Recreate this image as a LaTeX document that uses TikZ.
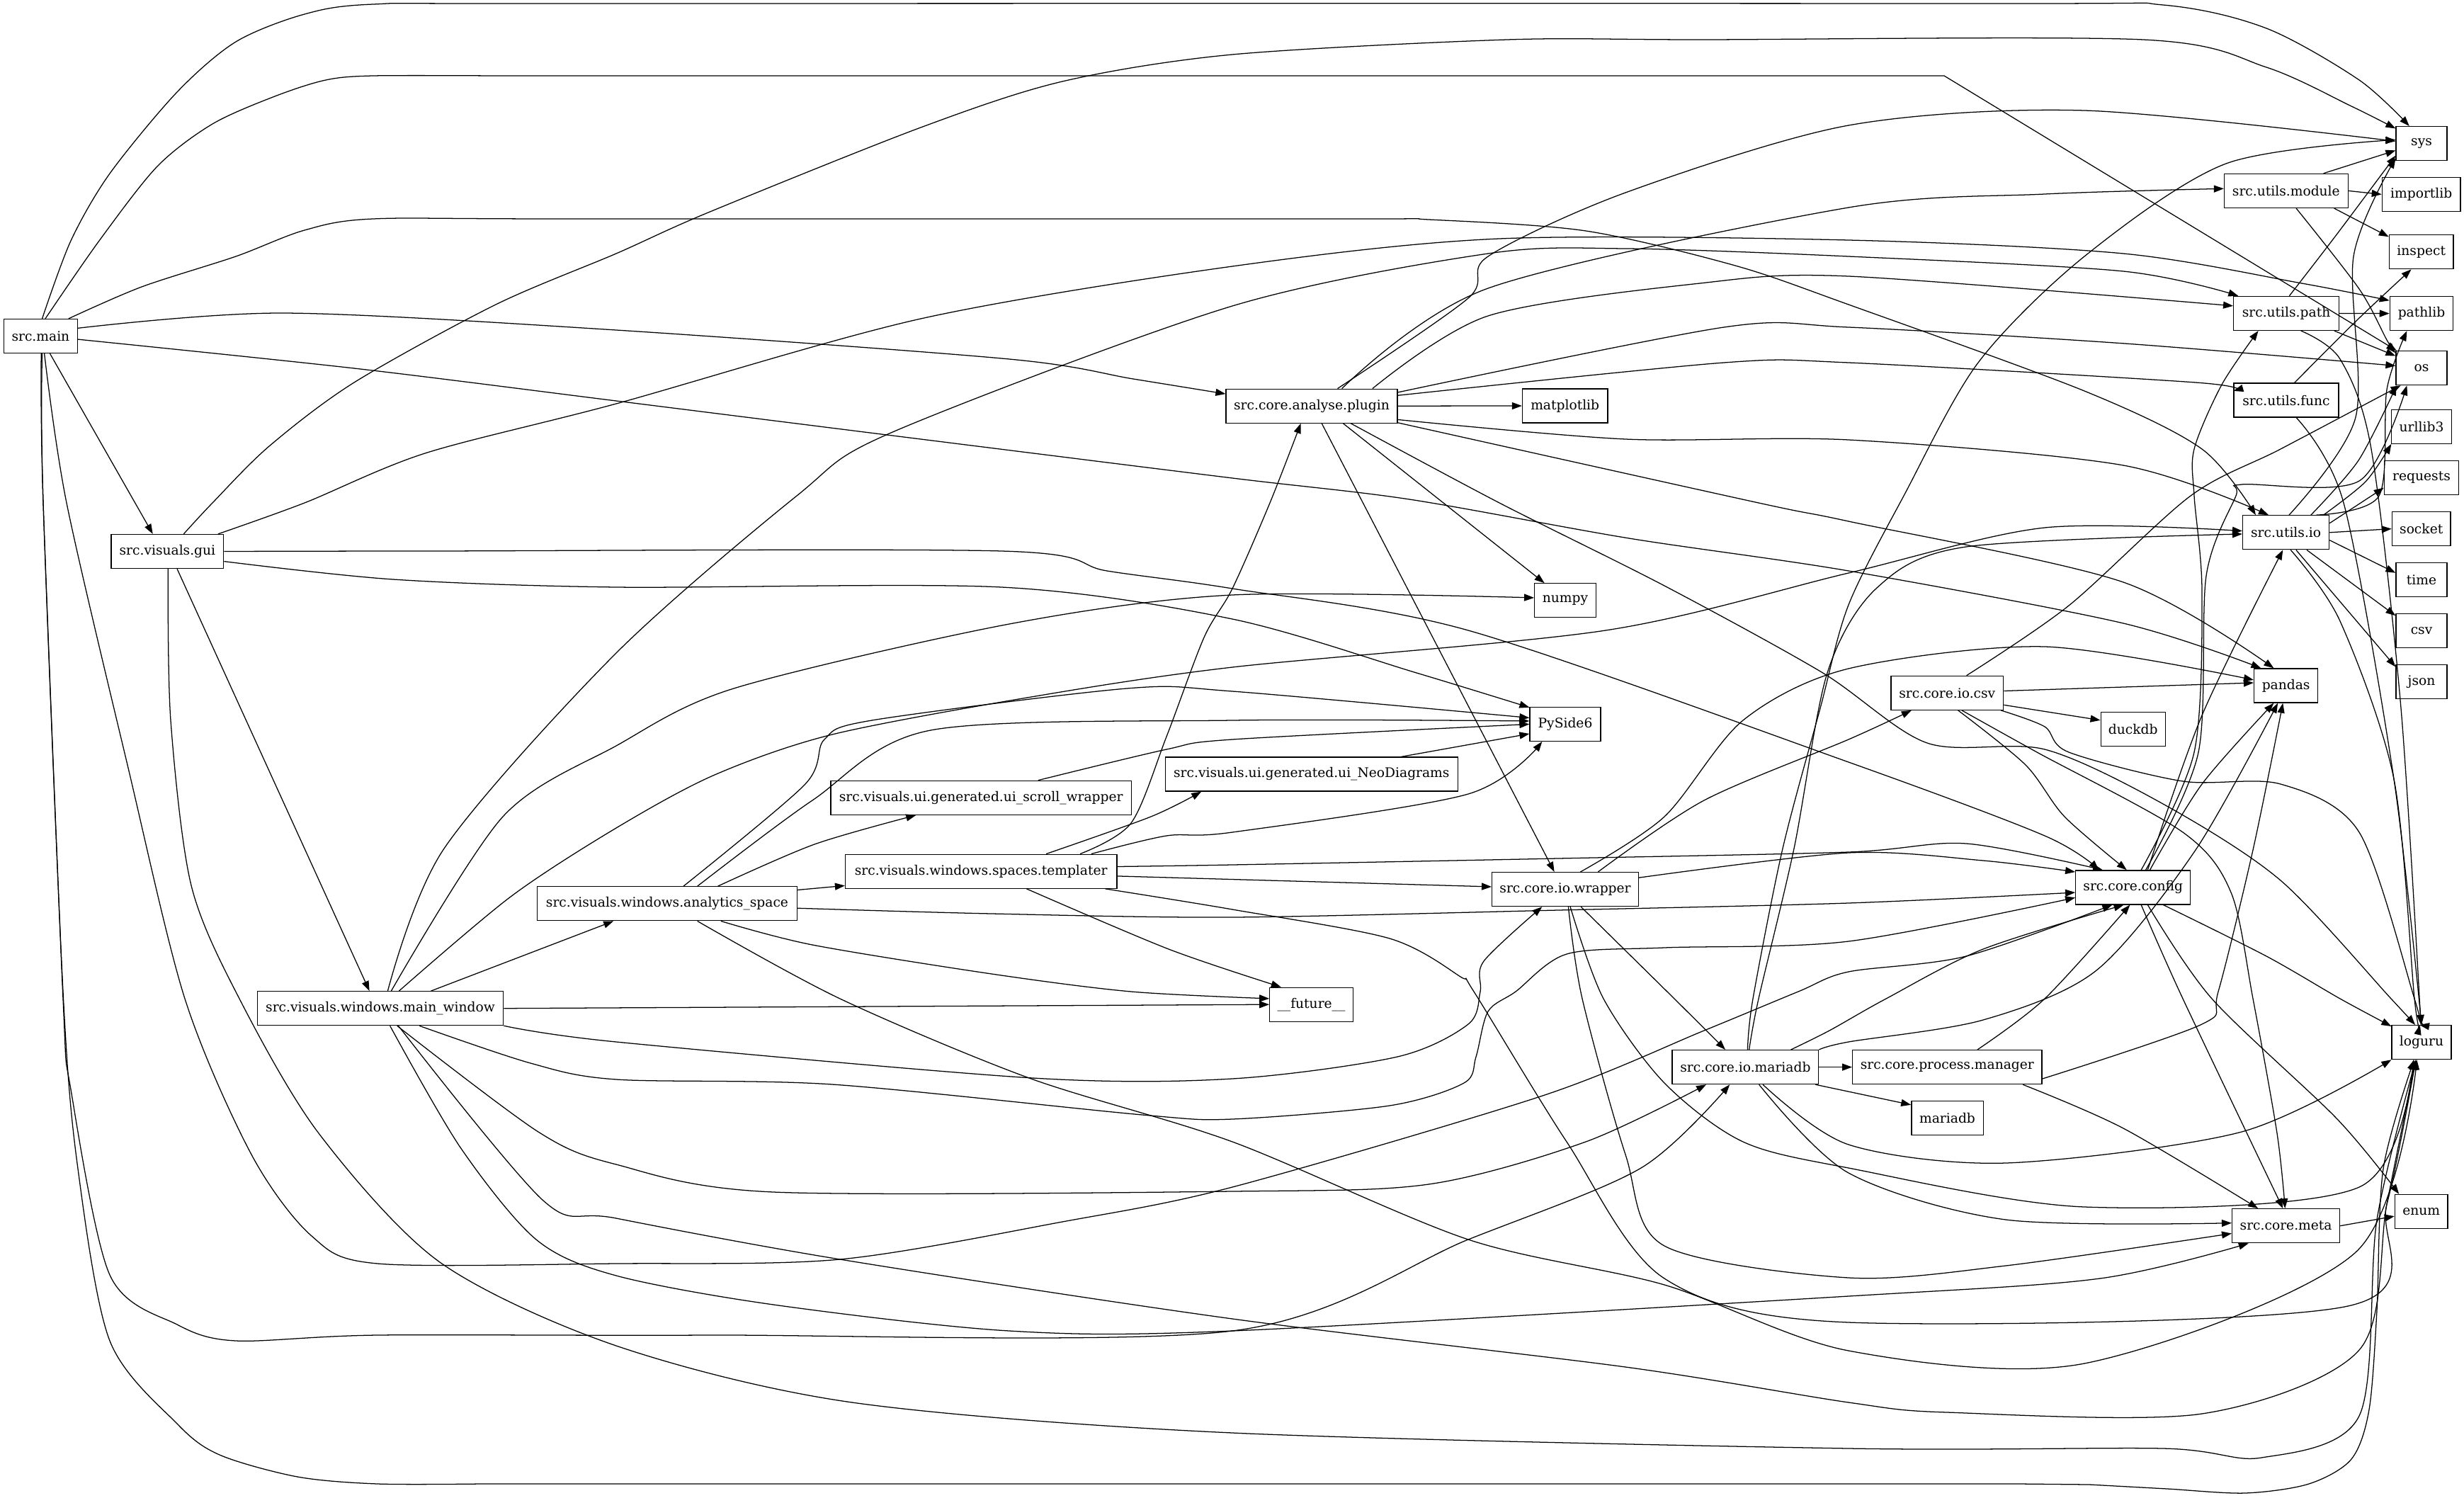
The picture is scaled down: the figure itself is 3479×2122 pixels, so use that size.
\documentclass[tikz,border=0pt]{standalone}
\usepackage{fontspec}
\setmainfont{DejaVu Serif}
\usetikzlibrary{arrows.meta}
\newcommand\edg[1]{\draw[edge] plot[smooth,tension=0.5] coordinates {#1};}
\begin{document}
\begin{tikzpicture}[x=0.75pt,y=-0.75pt,
  box/.style={draw,line width=0.95pt,minimum height=36pt,inner sep=0pt,font=\fontsize{14pt}{16pt}\selectfont},
  edge/.style={line width=0.95pt,-{Triangle[length=10.5pt,width=7.5pt]}}]
\useasboundingbox[fill=white] (0,0) rectangle (3479,2122);
% nodes
\node[box,minimum width=78pt] (main) at (57.4,474.5) {src.main};
\node[box,minimum width=119pt] (gui) at (236.4,778.5) {src.visuals.gui};
\node[box,minimum width=260.5pt] (mw) at (537,1423.7) {src.visuals.windows.main\_window};
\node[box,minimum width=275pt] (an) at (942,1275.8) {src.visuals.windows.analytics\_space};
\node[box,minimum width=318.3pt] (sw) at (1385.2,1126.3) {src.visuals.ui.generated.ui\_scroll\_wrapper};
\node[box,minimum width=287.5pt] (tp) at (1385.2,1230.2) {src.visuals.windows.spaces.templater};
\node[box,minimum width=181.5pt] (pl) at (1852,573.2) {src.core.analyse.plugin};
\node[box,minimum width=310pt] (neo) at (1851.8,1093) {src.visuals.ui.generated.ui\_NeoDiagrams};
\node[box,minimum width=88.2pt] (fut) at (1851.5,1418.2) {\_\_future\_\_};
\node[box,minimum width=90.3pt] (mpl) at (2209.7,573) {matplotlib};
\node[box,minimum width=65pt] (np) at (2210,847.8) {numpy};
\node[box,minimum width=75pt] (ps) at (2210,1022.4) {PySide6};
\node[box,minimum width=155pt] (wr) at (2210,1255.6) {src.core.io.wrapper};
\node[box,minimum width=155pt] (mdb) at (2464.4,1506.6) {src.core.io.mariadb};
\node[box,minimum width=119pt] (csv) at (2749.3,978.3) {src.core.io.csv};
\node[box,minimum width=200.5pt] (pm) at (2749.3,1506.6) {src.core.process.manager};
\node[box,minimum width=76pt] (mlib) at (2749.5,1578.5) {mariadb};
\node[box,minimum width=68.3pt] (duck) at (3011.7,1029.2) {duckdb};
\node[box,minimum width=121.5pt] (cfg) at (3011.7,1252.9) {src.core.config};
\node[box,minimum width=131pt] (mod) at (3227.8,269.4) {src.utils.module};
\node[box,minimum width=111.5pt] (path) at (3228,442.4) {src.utils.path};
\node[box,minimum width=111pt] (func) at (3228,565.1) {src.utils.func};
\node[box,minimum width=91.5pt] (uio) at (3227.6,751.8) {src.utils.io};
\node[box,minimum width=67.5pt] (pandas) at (3227.6,968) {pandas};
\node[box,minimum width=114pt] (meta) at (3227.6,1730.7) {src.core.meta};
\node[box,minimum width=54pt] (sys) at (3419,202.6) {sys};
\node[box,minimum width=83pt] (imp) at (3418.7,274.4) {importlib};
\node[box,minimum width=68pt] (insp) at (3418.7,355.7) {inspect};
\node[box,minimum width=67pt] (pathlib) at (3419,442.6) {pathlib};
\node[box,minimum width=54pt] (os) at (3419,519.6) {os};
\node[box,minimum width=64pt] (url) at (3419,602.2) {urllib3};
\node[box,minimum width=79pt] (req) at (3419,674.4) {requests};
\node[box,minimum width=62pt] (sock) at (3418.7,746.6) {socket};
\node[box,minimum width=54pt] (time) at (3419,818.6) {time};
\node[box,minimum width=54pt] (csvl) at (3419,890.4) {csv};
\node[box,minimum width=54pt] (json) at (3419,962.6) {json};
\node[box,minimum width=63pt] (log) at (3419,1471.6) {loguru};
\node[box,minimum width=56pt] (enum) at (3418.7,1710.4) {enum};
% main
\edg{(main.85) (100,340) (155,245) (250,130) (333,59) (430,20) (527,6) (800,5) (2800,5) (3054,7) (3200,40) (3331,113) (sys.125)}
\draw[edge] plot[smooth,tension=0.5] coordinates {(main.75) (140,340) (222,235) (300,175) (388,136) (460,113) (527,107) (700,107)} -- (2745,107) -- (os.145);
\edg{(main.32) (200,405) (333,362) (430,325) (527,309) (800,309) (1900,309) (2017,310) (2239,326) (2450,375) (2610,430) (2943,552) (3109,634) (uio.150)}
\edg{(main.12) (399,442) (870,466) (1425,507) (1600,535) (pl.172)}
\edg{(main.-5) (500,520) (870,566) (1300,620) (1740,675) (1990,705) (2300,760) (2610,806) (2998,880) (pandas.145)}
\draw[edge] (main.-62) -- (gui.130);
\edg{(main.-78) (94,710) (180,1080) (261,1410) (355,1630) (440,1745) (533,1784) (870,1784) (1186,1778) (1500,1725) (1740,1676) (2178,1547) (2406,1455) (2539,1400) (2610,1372) (2776,1350) (cfg.-140)}
\edg{(main.-88) (61,710) (89,1410) (100,1538) (155,1800) (250,1870) (333,1893) (533,1885) (1000,1885) (1740,1879) (2073,1750) (2317,1649) (mdb.-132)}
\draw[edge] plot[smooth,tension=0.5] coordinates {(main.-85) (61,710) (89,1400) (110,1650) (155,1893) (250,2010) (310,2054) (420,2085) (533,2095) (680,2095)} -- (2850,2095) -- plot[smooth,tension=0.5] coordinates {(2950,2096) (3060,2102) (3170,2108) (3260,2095) (3320,2060) (3345,1990) (3356,1850) (3365,1650) (log.-113)};
% gui
\edg{(gui.47) (300,710) (380,630) (500,540) (700,430) (870,358) (1000,300) (1300,180) (1500,115) (1740,77) (2128,56) (2400,56) (3026,56) (3200,95) (3320,150) (sys.150)}
\edg{(gui.19) (430,710) (600,640) (870,570) (1300,450) (1740,376) (2117,337) (2610,339) (2998,358) (3250,400) (pathlib.158)}
\edg{(gui.east) (600,778) (1414,778) (1563,806) (1740,831) (2073,890) (2610,1076) (2887,1180) (cfg.153)}
\edg{(gui.-10) (555,818) (870,829) (1414,829) (1740,874) (2000,950) (ps.155)}
\draw[edge] (gui.-61) -- (mw.122);
\edg{(gui.-88) (241,1017) (270,1250) (338,1410) (450,1600) (621,1782) (870,1900) (1203,1980) (1740,2023) (2610,2045) (3054,2045) (3193,2058) (3331,1999) (3356,1722) (log.-108)}
% main_window
\edg{(mw.67) (627,1198) (870,922) (1125,700) (1258,611) (1740,432) (2101,358) (2295,351) (2610,362) (2998,383) (path.160)}
\edg{(mw.58) (710,1153) (870,1053) (1036,972) (1425,881) (1740,840) (np.175)}
\edg{(mw.43) (721,1266) (870,1169) (1009,1094) (1175,1037) (1450,985) (1740,942) (2267,890) (2610,809) (2887,745) (uio.178)}
\draw[edge] (mw.19) -- (an.-162);
\draw[edge] (mw.east) -- (fut.west);
\edg{(mw.-8.7) (870,1471) (1458,1522) (1740,1523) (1973,1492) (2073,1446) (2090,1400) (2095,1357) (wr.-143)}
\edg{(mw.-24) (749,1501) (870,1524) (1175,1531) (1613,1574) (1740,1580) (1962,1561) (2067,1529) (2084,1492) (2101,1428) (2140,1400) (2212,1347) (2350,1338) (2610,1329) (cfg.-170)}
\edg{(mw.-46) (760,1598) (870,1644) (1092,1683) (1740,1682) (2017,1672) (2239,1612) (mdb.-156)}
\edg{(mw.-61) (650,1620) (757,1750) (870,1801) (1092,1842) (1425,1879) (1740,1879) (2610,1830) (2965,1805) (meta.-155)}
\edg{(mw.-44) (767,1695) (870,1720) (1186,1778) (1740,1862) (2295,1930) (2610,1980) (2749,1994) (3109,1996) (3331,1906) (3370,1700) (log.-108)}
% analytics
\edg{(an.47) (1136,1108) (1164,1044) (1231,1017) (1591,972) (1740,976) (ps.170)}
\edg{(an.30) (1147,1130) (1314,1031) (1740,1017) (ps.175)}
\edg{(an.19) (1150,1192) (sw.-165)}
\draw[edge] (an.6) -- (tp.-174);
\edg{(an.-2) (1400,1290) (1740,1295) (2200,1285) (2610,1275) (cfg.-175)}
\edg{(an.-18) (1147,1334) (1400,1375) (1597,1400) (fut.172)}
\edg{(an.-30) (1186,1410) (1453,1522) (1740,1612) (2073,1750) (2350,1814) (2610,1907) (2943,1925) (3326,1768) (log.-105)}
% templater
\edg{(tp.15) (1625,1153) (neo.-171)}
\edg{(tp.10) (1597,1162) (1647,1040) (1700,900) (1740,831) (1793,710) (pl.-122)}
\edg{(tp.9) (1647,1180) (1740,1175) (2073,1121) (ps.-143)}
\edg{(tp.2) (1740,1221) (2200,1212) (2610,1203) (2776,1191) (cfg.150)}
\draw[edge] (tp.-2) -- (wr.178);
\edg{(tp.-8) (1740,1284) (1962,1325) (2062,1379) (2081,1400) (2212,1612) (2350,1805) (2610,1867) (3315,1844) (3370,1700) (log.-108)}
\edg{(tp.-21) (1650,1340) (fut.150)}
\edg{(sw.17.5) (1647,1058) (1740,1044) (ps.180)}
\draw[edge] (neo.11) -- (ps.-165);
% plugin
\edg{(pl.34) (2073,421) (2101,362) (2295,272) (2610,177) (2943,156) (sys.175)}
\edg{(pl.30) (2101,407) (2610,293) (2887,274) (mod.178)}
\edg{(pl.16) (2101,446) (2400,400) (2610,390) (path.172)}
\edg{(pl.9) (2434,462) (2610,462) (3000,485) (os.175)}
\edg{(pl.7) (2434,512) (2610,512) (3100,540) (func.170)}
\draw[edge] (pl.east) -- (mpl.west);
\edg{(pl.-9) (2295,620) (2610,621) (2998,657) (uio.135)}
\draw[edge] (pl.-29) -- (np.140);
\draw[edge] (pl.-60) -- (wr.122);
\edg{(pl.-24) (2117,710) (2350,827) (2572,949) (2721,1049) (2887,1058) (3054,1135) (3220,1243) (3376,1410) (log.110)}
\edg{(pl.-11) (2483,710) (2610,736) (2998,822) (pandas.125)}
% wrapper
\edg{(wr.49) (2350,1153) (2461,1017) (2610,944) (2887,913) (pandas.170)}
\edg{(wr.28) (2406,1130) (2610,1044) (csv.-154)}
\edg{(wr.9) (2610,1204) (2800,1215) (cfg.165)}
\edg{(wr.-80) (2234,1410) (2295,1630) (2350,1759) (2610,1804) (2832,1787) (meta.-172)}
\edg{(wr.-74) (2264,1410) (2350,1529) (2461,1612) (2610,1649) (2943,1704) (3331,1676) (log.-115)}
\edg{(wr.-48) (2364,1410) (mdb.139)}
% mariadb
\edg{(mdb.83) (2475,1410) (2517,1198) (2570,1000) (2610,854) (2688,700) (2793,512) (2943,362) (3143,231) (sys.172)}
\edg{(mdb.78) (2483,1410) (2533,1198) (2580,950) (2650,830) (2776,772) (uio.-178)}
\draw[edge] (mdb.east) -- (pm.west);
\edg{(mdb.21) (2583,1455) (2663,1410) (2800,1340) (cfg.-118)}
\edg{(mdb.north east) (2610,1471) (2800,1440) (2960,1370) (3100,1200) (pandas.-115)}
\draw[edge] (mdb.-14) -- (mlib.160);
\edg{(mdb.-45) (2610,1616) (2832,1642) (3165,1598) (log.-150)}
\edg{(mdb.-52) (2610,1656) (2832,1722) (meta.177)}
% process manager
\edg{(pm.30) (2887,1410) (cfg.-100)}
\edg{(pm.-7) (3109,1446) (3132,1400) (3181,1200) (pandas.-100)}
\edg{(pm.-13.5) (2998,1593) (meta.148)}
% csv
\draw[edge] (csv.2) -- (pandas.175);
\draw[edge] (csv.-12) -- (duck.165);
\edg{(csv.-58) (2860,1080) (2915,1153) (cfg.110)}
\edg{(csv.-50) (2876,1062) (3082,1175) (3150,1260) (3181,1410) (3215,1600) (meta.93)}
\edg{(csv.-18) (2887,1026) (2921,1062) (3082,1103) (3220,1107) (3331,1175) (3409,1410) (log.97)}
\edg{(csv.42) (2921,855) (3093,700) (3220,634) (os.-140)}
% config
\edg{(cfg.65) (3098,1062) (3109,836) (3098,700) (3098,634) (3137,543) (path.-148)}
\edg{(cfg.54) (3104,1062) (3115,813) (3157,700) (3165,684) (3331,679) (os.-130)}
\edg{(cfg.50) (3109,1010) (uio.-100)}
\edg{(cfg.46) (3109,1107) (pandas.-125)}
\edg{(cfg.-65) (3082,1410) (meta.100)}
\edg{(cfg.-50) (3123,1410) (3300,1580) (enum.142)}
\edg{(cfg.-30) (3200,1350) (3304,1410) (log.152)}
% utils.io
\edg{(uio.80) (3326,589) (3323,362) (sys.-150)}
\edg{(uio.35) (3330,650) (os.-145)}
\edg{(uio.30) (3359,700) (3370,550) (pathlib.-130)}
\edg{(uio.25) (3340,680) (url.-150)}
\draw[edge] (uio.12) -- (req.-165);
\draw[edge] (uio.east) -- (sock.west);
\draw[edge] (uio.-10) -- (time.165);
\draw[edge] (uio.-40) -- (csvl.150);
\draw[edge] (uio.-60) -- (json.150);
\edg{(uio.-75) (3304,877) (3380,1100) (3409,1410) (log.95)}
% module, path, func
\draw[edge] (mod.25) -- (sys.-165);
\draw[edge] (mod.east) -- (imp.west);
\draw[edge] (mod.-20) -- (insp.155);
\edg{(mod.-60) (3331,408) (3370,480) (os.150)}
\edg{(path.80) (3300,330) (sys.-155)}
\draw[edge] (path.east) -- (pathlib.west);
\draw[edge] (path.-20) -- (os.155);
\edg{(path.-50) (3304,507) (3348,634) (3390,1000) (log.92)}
\edg{(func.65) (3330,450) (insp.-120)}
\edg{(func.-60) (3309,710) (3380,1100) (log.90)}
\draw[edge] (meta.east) -- (enum.-170);
\end{tikzpicture}
\end{document}
